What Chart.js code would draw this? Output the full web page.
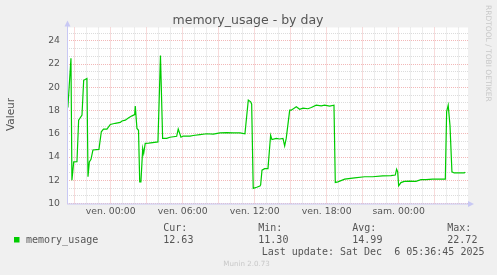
<!DOCTYPE html>
<html>
<head>
<meta charset="utf-8">
<script src="https://cdn.jsdelivr.net/npm/chart.js@4.4.1/dist/chart.umd.min.js"></script>
<style>
  body { margin: 0; background: #f0f0f0; }
  #wrap { width: 497px; height: 275px; }
</style>
</head>
<body>
<div id="wrap"><canvas id="graph" width="497" height="275"></canvas></div>
<script>
// heures depuis ven. 00:00
const hours = [
  -3.64, -3.56, -3.31, -3.23, -3.08, -2.81, -2.67, -2.39, -2.25, -1.98,
  -1.89, -1.78, -1.64, -1.48, -0.98, -0.78, -0.60, -0.31, -0.03, 0.38,
  0.80, 0.94, 1.22, 1.50, 1.78, 2.00, 2.05, 2.19, 2.32, 2.42,
  2.52, 2.67, 2.75, 2.88, 3.17, 3.94, 4.15, 4.33, 4.67, 4.94,
  5.50, 5.63, 5.86, 6.05, 6.61, 6.88, 7.44, 8.00, 8.55, 9.11,
  9.67, 10.22, 10.78, 11.19, 11.47, 11.67, 11.75, 11.88, 12.17, 12.44,
  12.50, 12.61, 12.83, 13.11, 13.33, 13.44, 13.80, 14.08, 14.36, 14.50,
  14.63, 14.92, 15.05, 15.47, 15.75, 16.03, 16.44, 16.72, 17.13, 17.55,
  17.83, 18.25, 18.61, 18.72, 18.94, 19.50, 20.33, 21.17, 21.83, 22.67,
  23.36, 23.72, 23.83, 23.92, 24.00, 24.19, 24.47, 24.89, 25.44, 25.86,
  26.28, 26.83, 27.39, 27.89, 28.00, 28.13, 28.28, 28.44, 28.63, 29.47,
  29.55
];
const values = [
  18.32, 18.40, 22.49, 12.00, 13.58, 13.60, 17.17, 17.60, 20.60, 20.76,
  12.30, 13.58, 13.80, 14.60, 14.65, 16.17, 16.40, 16.40, 16.80, 16.90,
  16.98, 17.10, 17.17, 17.37, 17.54, 17.65, 18.38, 16.46, 16.30, 11.86,
  11.86, 14.74, 14.30, 15.17, 15.20, 15.30, 22.72, 15.60, 15.60, 15.70,
  15.78, 16.40, 15.70, 15.80, 15.80, 15.85, 15.92, 16.00, 15.97, 16.07,
  16.10, 16.07, 16.07, 16.00, 18.90, 18.75, 18.54, 11.30, 11.40, 11.50,
  11.60, 12.87, 13.00, 13.00, 15.88, 15.50, 15.60, 15.55, 15.60, 14.96,
  15.60, 18.03, 18.03, 18.32, 18.10, 18.20, 18.15, 18.26, 18.46, 18.40,
  18.46, 18.37, 18.46, 11.81, 11.86, 12.09, 12.20, 12.30, 12.30, 12.37,
  12.40, 12.45, 12.95, 12.72, 11.52, 11.80, 11.90, 11.92, 11.90, 12.05,
  12.05, 12.10, 12.10, 12.10, 17.90, 18.46, 16.70, 12.72, 12.63, 12.63,
  12.70
];
const xTickHours = [0, 6, 12, 18, 24];
const xTickLabels = ['ven. 00:00', 'ven. 06:00', 'ven. 12:00', 'ven. 18:00', 'sam. 00:00'];
const yTickLabels = [10, 12, 14, 16, 18, 20, 22, 24];
const statNames = ['Cur:', 'Min:', 'Avg:', 'Max:'];
const statValues = ['12.63', '11.30', '14.99', '22.72'];

const ROUGE = '#f2b8b8';
const GRIS = '#dcdcdc';
const VERT = '#00cc00';

const decor = {
  id: 'decor',
  beforeDraw(chart) {
    const ctx = chart.ctx;
    const a = chart.chartArea;
    ctx.save();
    ctx.fillStyle = '#f0f0f0';
    ctx.fillRect(0, 0, chart.width, chart.height);
    ctx.fillStyle = '#ffffff';
    ctx.fillRect(a.left, a.top, a.right - a.left, a.bottom - a.top);
    ctx.restore();
  },
  afterDraw(chart) {
    const ctx = chart.ctx;
    const a = chart.chartArea;
    ctx.save();
    // axes avec fleches
    ctx.strokeStyle = '#c8c8f4';
    ctx.fillStyle = '#c8c8f4';
    ctx.lineWidth = 1;
    ctx.beginPath();
    ctx.moveTo(a.left + 0.5, a.bottom);
    ctx.lineTo(a.left + 0.5, a.top - 4);
    ctx.moveTo(a.left, a.bottom + 0.5);
    ctx.lineTo(a.right + 3, a.bottom + 0.5);
    ctx.stroke();
    ctx.beginPath();
    ctx.moveTo(a.left - 2.5, a.top - 1);
    ctx.lineTo(a.left + 3.5, a.top - 1);
    ctx.lineTo(a.left + 0.5, a.top - 7);
    ctx.closePath();
    ctx.fill();
    ctx.beginPath();
    ctx.moveTo(a.right, a.bottom - 2.5);
    ctx.lineTo(a.right, a.bottom + 3.5);
    ctx.lineTo(a.right + 6, a.bottom + 0.5);
    ctx.closePath();
    ctx.fill();

    // titre
    ctx.fillStyle = '#555';
    ctx.font = '12.5px "DejaVu Sans"';
    ctx.textAlign = 'center';
    ctx.textBaseline = 'alphabetic';
    ctx.fillText('memory_usage - by day', 248, 24);

    // titre axe y
    ctx.save();
    ctx.translate(11, 114.5);
    ctx.rotate(-Math.PI / 2);
    ctx.font = '10.5px "DejaVu Sans"';
    ctx.textBaseline = 'middle';
    ctx.fillText('Valeur', 0, 0);
    ctx.restore();

    // filigrane
    ctx.save();
    ctx.translate(488, 5);
    ctx.rotate(Math.PI / 2);
    ctx.fillStyle = '#c8c8c8';
    ctx.font = '7.5px "DejaVu Sans"';
    ctx.textAlign = 'left';
    ctx.textBaseline = 'middle';
    ctx.fillText('RRDTOOL / TOBI OETIKER', 0, 0);
    ctx.restore();

    // legende
    ctx.fillStyle = VERT;
    ctx.fillRect(14, 237, 5.5, 5.5);
    ctx.fillStyle = '#555';
    ctx.font = '10px "DejaVu Sans Mono"';
    ctx.textAlign = 'left';
    ctx.textBaseline = 'middle';
    ctx.fillText('memory_usage', 26, 240);
    const statX = [163.3, 258.3, 352.3, 447.3];
    statNames.forEach((n, i) => {
      ctx.fillText(n, statX[i], 228);
      ctx.fillText(statValues[i], statX[i], 240);
    });
    ctx.fillText('Last update: Sat Dec  6 05:36:45 2025', 261.7, 252);

    ctx.fillStyle = '#c8c8c8';
    ctx.font = '7.1px "DejaVu Sans"';
    ctx.fillText('Munin 2.0.73', 223.3, 264.5);
    ctx.restore();
  }
};

new Chart(document.getElementById('graph'), {
  type: 'line',
  data: {
    datasets: [{
      label: 'memory_usage',
      data: hours.map((h, i) => ({ x: h, y: values[i] })),
      borderColor: VERT,
      borderWidth: 1.2,
      pointRadius: 0,
      tension: 0,
      fill: false
    }]
  },
  options: {
    responsive: false,
    animation: false,
    layout: { padding: { top: 27.5, right: 29, bottom: 51.5, left: 0 } },
    plugins: {
      legend: { display: false },
      title: { display: false },
      tooltip: { enabled: false }
    },
    scales: {
      x: {
        type: 'linear',
        min: -3.64,
        max: 29.78,
        afterFit: s => { s.height = 20; },
        afterBuildTicks: s => {
          const t = [];
          for (let h = -3; h <= 29; h++) t.push({ value: h });
          s.ticks = t;
        },
        grid: {
          drawTicks: false,
          color: c => (c.tick && c.tick.value % 3 === 0) ? ROUGE : GRIS
        },
        border: { display: false, dash: [1, 1] },
        ticks: {
          autoSkip: false,
          maxRotation: 0,
          padding: 3,
          color: '#555',
          font: { family: 'DejaVu Sans', size: 9.3 },
          callback: v => {
            const i = xTickHours.indexOf(v);
            return i >= 0 ? xTickLabels[i] : '';
          }
        }
      },
      y: {
        min: 10,
        max: 25.14,
        afterFit: s => { s.width = 67; },
        afterBuildTicks: s => {
          const t = [];
          for (let k = 0; k <= 22; k++) t.push({ value: 10 + k * 2 / 3 });
          s.ticks = t;
        },
        grid: {
          drawTicks: false,
          color: c => {
            if (!c.tick) return GRIS;
            const k = Math.round((c.tick.value - 10) * 1.5);
            return k % 3 === 0 ? ROUGE : GRIS;
          }
        },
        border: { display: false, dash: [1, 1] },
        ticks: {
          autoSkip: false,
          padding: 7,
          color: '#555',
          font: { family: 'DejaVu Sans', size: 9.3 },
          callback: v => {
            const r = Math.round(v);
            return (Math.abs(v - r) < 1e-6 && yTickLabels.includes(r)) ? String(r) : '';
          }
        }
      }
    }
  },
  plugins: [decor]
});
</script>
</body>
</html>
